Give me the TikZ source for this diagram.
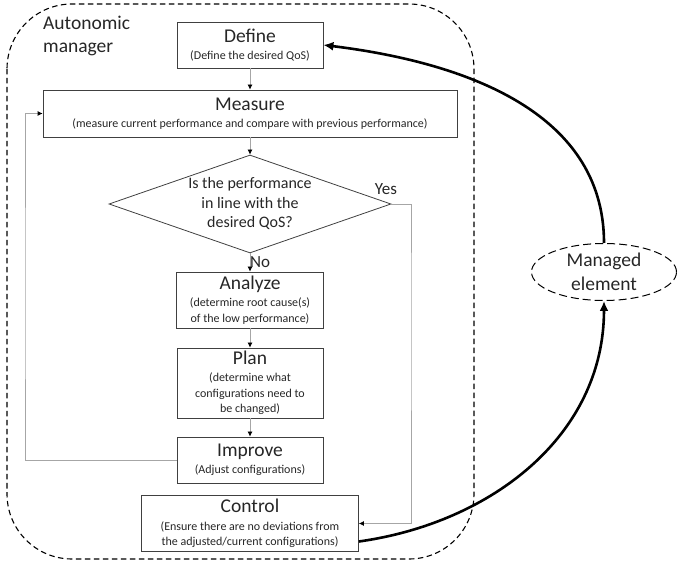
\documentclass[tikz,border=0pt]{standalone}
\usepackage{fontspec}
\setmainfont{Carlito}
\usetikzlibrary{shapes.geometric,arrows.meta,positioning}

\newcommand{\ttlfont}{\fontsize{19.5}{23.5}\selectfont}
\newcommand{\subfont}{\fontsize{12}{15.5}\selectfont}
\newcommand{\qfont}{\fontsize{16}{19.5}\selectfont}

\begin{document}
\begin{tikzpicture}[x=1pt,y=1pt,node distance=70pt,on grid,
    stage/.style={draw=black!75,line width=0.8pt,align=center,inner sep=1pt,text=black!85,font=\subfont},
    test/.style={diamond,draw=black!75,line width=0.8pt,aspect=2.88,minimum width=282pt,minimum height=98pt,inner sep=-14pt,align=center,text=black!85,font=\qfont},
    flow/.style={draw=black!35,line width=0.8pt,-{Latex[length=5pt,width=5pt,color=black]}},
    link/.style={line width=2.6pt,-{Latex[length=10pt,width=9pt]}},
    manager/.style={draw,dash pattern=on 5.5pt off 3.5pt,line width=1.1pt,rounded corners=65pt}]
  \useasboundingbox (0,0) rectangle (678,-561);

  % autonomic manager
  \draw[manager] (7,-4) rectangle (474,-559);
  \node[anchor=north west,inner sep=0pt,align=left,font=\ttlfont,text=black!85] (am) at (43,-15.4) {Autonomic\\manager};

  % MAPE steps
  \node[stage,minimum width=146pt,minimum height=46pt] (define) at (250,-45)
       {{\ttlfont Define}\\[2pt](Define the desired QoS)};
  \node[stage,minimum width=414pt,minimum height=47pt] (measure) [below=68.5pt of define]
       {{\ttlfont Measure}\\[2pt](measure current performance and compare with previous performance)};
  \node[test] (check) [below=90.5pt of measure]
       {Is the performance\\in line with the\\desired QoS?};
  \node[stage,minimum width=147pt,minimum height=56pt] (analyze) [below=96pt of check]
       {{\ttlfont Analyze}\\[2pt](determine root cause(s)\\of the low performance)};
  \node[stage,minimum width=146pt,minimum height=70pt] (plan) [below=83pt of analyze]
       {{\ttlfont Plan}\\[2pt](determine what\\configurations need to\\be changed)};
  \node[stage,minimum width=146pt,minimum height=46pt] (improve) [below=77pt of plan]
       {{\ttlfont Improve}\\[2pt](Adjust configurations)};
  \node[stage,minimum width=217pt,minimum height=56pt] (control) [below=63.5pt of improve]
       {{\ttlfont Control}\\[2pt](Ensure there are no deviations from\\the adjusted/current configurations)};

  % managed element
  \node[ellipse,draw,dash pattern=on 8pt off 4pt,line width=1pt,minimum width=145pt,minimum height=57pt,
        inner sep=0pt,align=center,font=\ttlfont,text=black!85] (managed) at (604,-272) {Managed\\element};

  \coordinate (loop) at (25,-300);
  \coordinate (yes) at (411,-300);

  \path[flow] (define) edge (measure)
              (measure) edge (check)
              (check) edge node[right=10pt,anchor=center,font=\fontsize{17}{20}\selectfont,text=black!85] {No} (analyze)
              (analyze) edge (plan)
              (plan) edge (improve);
  \draw[flow] (improve.west) -| (loop) |- (measure.west);
  \draw[flow] (check.east) -| (yes) |- (control.east);
  \node[font=\fontsize{17}{20}\selectfont,text=black!85] (yeslabel) at (386,-189) {Yes};

  \draw[link] ([yshift=-18pt]control.east) to[out=8,in=-90] (managed.south);
  \draw[link] (managed.north) to[out=90,in=-7] (define.east);
\end{tikzpicture}
\end{document}
